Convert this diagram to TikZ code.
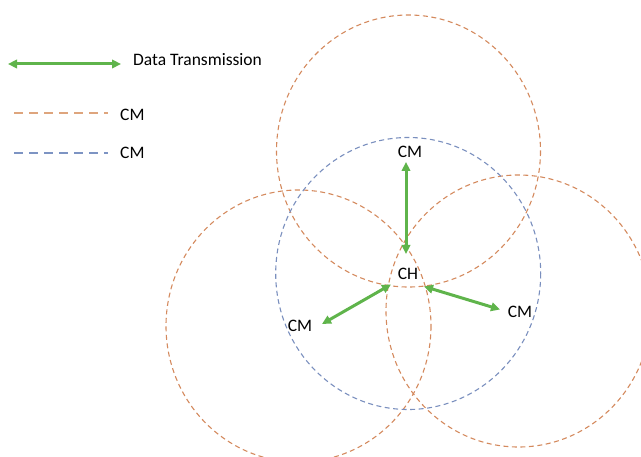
\documentclass[tikz,border=0pt]{standalone}
\usepackage{fontspec}
\setmainfont{Carlito}
\usetikzlibrary{arrows.meta}
\definecolor{rangeor}{RGB}{212,138,94}
\definecolor{rangebl}{RGB}{122,143,190}
\definecolor{keyor}{RGB}{222,165,125}
\definecolor{keybl}{RGB}{125,148,195}
\definecolor{linkgr}{RGB}{95,180,75}
\tikzset{
  rangeA/.style={draw=rangeor, line width=1.1pt, dash pattern=on 5pt off 3.5pt},
  rangeB/.style={draw=rangebl, line width=1.1pt, dash pattern=on 5pt off 3.5pt},
  keyA/.style={draw=keyor, line width=2.4pt, dash pattern=on 9pt off 6pt},
  keyB/.style={draw=keybl, line width=2.4pt, dash pattern=on 9pt off 6pt},
  link/.style={draw=linkgr, line width=3pt, {Triangle[length=9pt,width=8.5pt]}-{Triangle[length=9pt,width=8.5pt]}},
  lbl/.style={inner sep=0pt, font=\fontsize{17.5}{20}\selectfont},
}
\begin{document}
\begin{tikzpicture}[x=1pt,y=-1pt]
\useasboundingbox (0,0) rectangle (641,457);
\begin{scope}
\clip (0,0) rectangle (641,457);
% transmission ranges of the members and the head
\draw[rangeA] (408.5,151) ellipse [x radius=132, y radius=136];
\draw[rangeA] (298.5,326) ellipse [x radius=132.5, y radius=136];
\draw[rangeA] (518.5,311) ellipse [x radius=132.5, y radius=136];
\draw[rangeB] (408.2,273.5) ellipse [x radius=132.5, y radius=136];
\end{scope}

% legend
\coordinate (kl) at (8,64);
\coordinate (kr) at (121,64);
\draw[link] (kl) -- (kr);
\node[lbl, anchor=west] (kdt) at (133,60) {Data Transmission};
\coordinate (ka1) at (14,113);
\coordinate (ka2) at (108,113);
\draw[keyA] (ka1) -- (ka2);
\node[lbl, anchor=west] (kcm1) at (120,115) {CM};
\coordinate (kb1) at (14,153);
\coordinate (kb2) at (108,153);
\draw[keyB] (kb1) -- (kb2);
\node[lbl, anchor=west] (kcm2) at (120,153) {CM};

% cluster head and members
\node[lbl] (ch) at (408,274) {CH};
\node[lbl] (cmt) at (410,152) {CM};
\node[lbl] (cml) at (300,326) {CM};
\node[lbl] (cmr) at (520,311.5) {CM};

\coordinate (at) at (406,162);
\coordinate (ab) at (406,254);
\coordinate (al) at (322,324);
\coordinate (ahl) at (391,284.5);
\coordinate (ar) at (500,309.5);
\coordinate (ahr) at (424,286.5);
\draw[link] (ab) -- (at);
\draw[link] (ahl) -- (al);
\draw[link] (ahr) -- (ar);
\end{tikzpicture}
\end{document}
